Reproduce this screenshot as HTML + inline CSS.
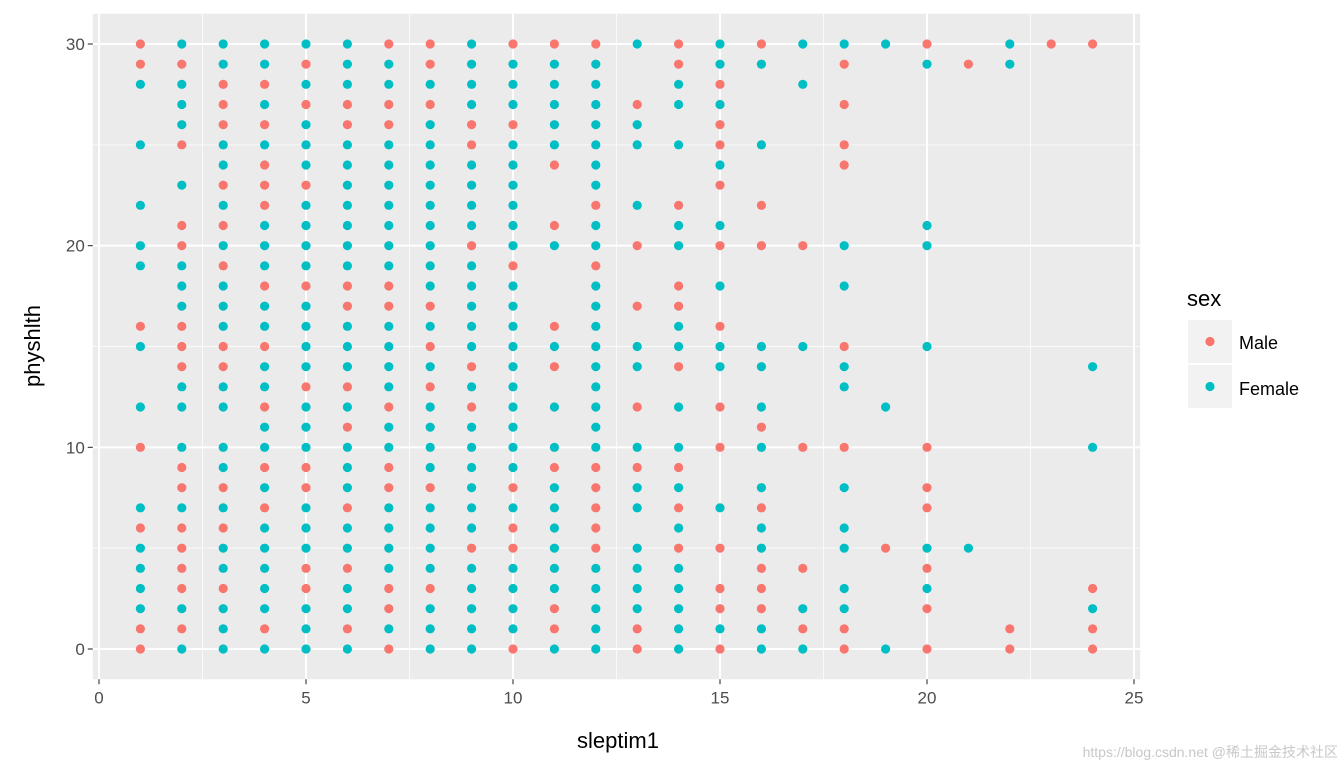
<!DOCTYPE html>
<html><head><meta charset="utf-8"><title>physhlth vs sleptim1</title>
<style>body{margin:0;background:#fff;}svg{display:block;font-family:"Liberation Sans","Noto Sans CJK SC",sans-serif;}</style>
</head><body>
<svg id="chart" width="1344" height="768">
  <rect x="0" y="0" width="1344" height="768" fill="#fff"/>
  <rect id="panel" fill="#ebebeb"/>
  <g id="grid"></g>
  <g id="points"></g>
  <g id="axes"></g>
  <text x="618" y="748" font-size="22" text-anchor="middle" fill="#000">sleptim1</text>
  <text transform="translate(40,346) rotate(-90)" font-size="22" text-anchor="middle" fill="#000">physhlth</text>
  <g>
    <text x="1187" y="306" font-size="22" fill="#000">sex</text>
    <g>
      <rect x="1188" y="320" width="44" height="43" fill="#f2f2f2"/>
      <circle cx="1210" cy="341.5" r="4.6" fill="#F8766D"/>
      <text x="1239" y="349" font-size="18" fill="#000">Male</text>
    </g>
    <g>
      <rect x="1188" y="365" width="44" height="43" fill="#f2f2f2"/>
      <circle cx="1210" cy="386.5" r="4.6" fill="#00BFC4"/>
      <text x="1239" y="395" font-size="18" fill="#000">Female</text>
    </g>
  </g>
  <text x="1338" y="757" font-size="14" text-anchor="end" fill="#c8c8c8">https://blog.csdn.net @稀土掘金技术社区</text>
</svg>
<script>
// x categories (sleptim1) and per-column sex codes from physhlth=30 down to 0 (M=Male, F=Female, .=none)
const xValues = [1,2,3,4,5,6,7,8,9,10,11,12,13,14,15,16,17,18,19,20,21,22,23,24];
const columnCodes = [
"MMF..F..F.FF..MF..F.M..FMFFFFMM",
"FMFFFM.F.MMFFFMMMFF.FMMFMMMMFMF",
"FFMMMFFMFMFMFFFMMFF.FFMFMFFMFFF",
"FFMFMFMMMFFFMFFMFFMFFMFMFFFFFMF",
"FMFMFFFMFFFFMFFFFMFFFMMFFFMMFFF",
"FFFMMFFFFFFFMMFFFMFMFFFMFFMFFMF",
"MFFMMFFFFFFFMMFFFFMFFMMFFFFMMFM",
"MMFMFFFFFFFFFMFMFMFFFFMFFFFMFFF",
"FFFFMMFFFFMFFFFFMFMFFFFFFMFFFFF",
"MFFFMFFFFFFMFFFFFFFFFFMFMMFFFFM",
"MFFFFFM..MF...MFM.F.FMFFFFFFMMF",
"MFFFFFFFMFFMFFFFFFFFFMMMMMFFFFF",
"F..MFF..F.M..M.FF.M.FMFF.FFFFMM",
"MMFF.F..MFF.MMFFM.F.FMFMFMFFFFF",
"FFMFMMFM.FM.F.MFF.M.M..F.M.MMFM",
"MF...F..M.M....FF.FMF.FMFFMMMFF",
"F.F.......M....F....M.....M.FMF",
"FM.M.MM...F.F..MFF..M.F.FF.FFMM",
"F.................F......M....F",
"MF.......FF....F....M.MM.FMFM.M",
".M.......................F.....",
"FF...........................MM",
"M..............................",
"M...............F...F......MFMM"
];
const yTop = 30;
const xTicks = [0,5,10,15,20,25];
const yTicks = [0,10,20,30];
const xMinor = [2.5,7.5,12.5,17.5,22.5];
const yMinor = [5,15,25];

const NS = "http://www.w3.org/2000/svg";
const X0 = 99, XK = (1134 - 99) / 25;
const Y0 = 649, YK = (649 - 44) / 30;
const sx = v => X0 + v * XK;
const sy = v => Y0 - v * YK;
const panelL = sx(-0.15), panelR = sx(25.15), panelT = sy(31.5), panelB = sy(-1.5);

const panel = document.getElementById('panel');
panel.setAttribute('x', panelL); panel.setAttribute('y', panelT);
panel.setAttribute('width', panelR - panelL); panel.setAttribute('height', panelB - panelT);

function mk(tag, attrs, parent) {
  const e = document.createElementNS(NS, tag);
  for (const k in attrs) e.setAttribute(k, attrs[k]);
  parent.appendChild(e);
  return e;
}
const grid = document.getElementById('grid');
xMinor.forEach(v => { const l = mk('line', {x1: sx(v), x2: sx(v), y1: panelT, y2: panelB, stroke: '#fafafa', 'stroke-width': 1}, grid);
  
   });
yMinor.forEach(v => { const l = mk('line', {x1: panelL, x2: panelR, y1: sy(v), y2: sy(v), stroke: '#fafafa', 'stroke-width': 1}, grid);
  
   });
xTicks.forEach(v => { const l = mk('line', {x1: sx(v), x2: sx(v), y1: panelT, y2: panelB, stroke: '#fff', 'stroke-width': 2}, grid);
  
   });
yTicks.forEach(v => { const l = mk('line', {x1: panelL, x2: panelR, y1: sy(v), y2: sy(v), stroke: '#fff', 'stroke-width': 2}, grid);
  
   });

const pts = document.getElementById('points');
columnCodes.forEach((codes, i) => {
  for (let j = 0; j < codes.length; j++) {
    const c = codes[j];
    if (c === '.') continue;
    const c1 = mk('circle', {cx: sx(xValues[i]), cy: sy(yTop - j), r: 4.6, fill: c === 'M' ? '#F8766D' : '#00BFC4'}, pts);
    
    
  }
});

const axes = document.getElementById('axes');
xTicks.forEach(v => {
  const t = mk('line', {x1: sx(v), x2: sx(v), y1: panelB, y2: panelB + 5, stroke: '#333', 'stroke-width': 1.1}, axes);
  
  
  const lb = mk('text', {x: sx(v), y: panelB + 24, 'font-size': 17, 'text-anchor': 'middle', fill: '#4d4d4d'}, axes);
  lb.textContent = v;
  
  
});
yTicks.forEach(v => {
  const t = mk('line', {x1: panelL - 5, x2: panelL, y1: sy(v), y2: sy(v), stroke: '#333', 'stroke-width': 1.1}, axes);
  
  
  const lb = mk('text', {x: panelL - 8, y: sy(v) + 6, 'font-size': 17, 'text-anchor': 'end', fill: '#4d4d4d'}, axes);
  lb.textContent = v;
  
  
});
</script>
</body></html>
